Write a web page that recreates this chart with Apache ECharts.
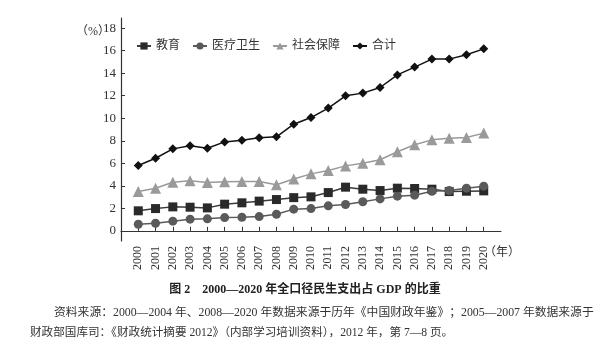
<!DOCTYPE html>
<html><head><meta charset="utf-8">
<script src="https://cdn.jsdelivr.net/npm/echarts@6/dist/echarts.min.js"></script>
<style>html,body{margin:0;padding:0;background:#fff}#c{width:610px;height:346px}</style>
</head><body><div id="c"></div>
<script>
const years = [2000,2001,2002,2003,2004,2005,2006,2007,2008,2009,2010,2011,2012,2013,2014,2015,2016,2017,2018,2019,2020];
const education = [1.78,1.98,2.13,2.10,2.04,2.37,2.49,2.64,2.78,2.95,3.02,3.40,3.88,3.70,3.58,3.79,3.76,3.70,3.49,3.52,3.55];
const health = [0.59,0.68,0.86,1.04,1.07,1.18,1.21,1.27,1.48,1.93,1.98,2.22,2.34,2.58,2.84,3.08,3.17,3.52,3.58,3.79,3.97];
const social = [3.49,3.79,4.32,4.44,4.29,4.35,4.38,4.38,4.09,4.60,5.06,5.36,5.77,6.01,6.31,7.02,7.64,8.08,8.23,8.29,8.68];
const total = [5.80,6.45,7.28,7.55,7.34,7.90,8.05,8.27,8.35,9.47,10.06,10.90,11.99,12.23,12.73,13.85,14.54,15.25,15.25,15.63,16.16];
const yTicks = [0,2,4,6,8,10,12,14,16,18];
const seriesNames = ['教育','医疗卫生','社会保障','合计'];
const yUnit = '（%）';
const xUnit = '（年）';
const captionText = '图 2　2000—2020 年全口径民生支出占 GDP 的比重';
const sourceLine1 = '资料来源：2000—2004 年、2008—2020 年数据来源于历年《中国财政年鉴》；2005—2007 年数据来源于';
const sourceLine2 = '财政部国库司：《财政统计摘要 2012》（内部学习培训资料），2012 年，第 7—8 页。';

const serif = 'Liberation Serif, Noto Sans CJK SC';
function pairs(arr){ return years.map((y,i)=>[y,arr[i]]); }
const chart = echarts.init(document.getElementById('c'), null, {renderer:'canvas'});
chart.setOption({
  animation:false,
  backgroundColor:'#fff',
  textStyle:{fontFamily:serif},
  title:[
    {text:captionText,left:'center',top:279,textStyle:{fontSize:12,fontWeight:'bold',color:'#222',fontFamily:serif}},
    {text:sourceLine1,left:49,top:302,textStyle:{fontSize:11.8,fontWeight:'normal',color:'#333',fontFamily:serif}},
    {text:sourceLine2,left:25,top:322,textStyle:{fontSize:11.6,fontWeight:'normal',color:'#333',fontFamily:serif}},
    {text:yUnit,left:76,top:26,padding:0,textStyle:{fontSize:12,fontWeight:'normal',color:'#333',fontFamily:serif}},
    {text:xUnit,left:484,top:247,padding:0,textStyle:{fontSize:12,fontWeight:'normal',color:'#333',fontFamily:serif}}
  ],
  legend:{
    left:131, top:35, itemWidth:14, itemHeight:9, itemGap:12,
    textStyle:{fontSize:12,color:'#333',fontFamily:serif},
    data:seriesNames
  },
  grid:{left:121,right:109,top:18,bottom:105,containLabel:false},
  xAxis:{
    type:'value', min:1999, max:2021,
    axisLine:{lineStyle:{color:'#333',width:1.2}},
    axisTick:{inside:true,length:4,lineStyle:{color:'#333'},customValues:years},
    axisLabel:{rotate:90,fontSize:12,color:'#333',customValues:years,formatter:v=>String(v),margin:5},
    splitLine:{show:false}
  },
  yAxis:{
    type:'value', min:-0.9, max:18.9,
    axisLine:{show:true,lineStyle:{color:'#333',width:1.2}},
    axisTick:{show:true,inside:true,length:4,lineStyle:{color:'#333'},customValues:yTicks},
    axisLabel:{fontSize:13,color:'#333',customValues:yTicks,margin:5},
    splitLine:{show:false}
  },
  series:[
    {name:seriesNames[0],type:'line',data:pairs(education),symbol:'rect',symbolSize:9,
     itemStyle:{color:'#2a2a2a'},lineStyle:{color:'#3a3a3a',width:1.5}},
    {name:seriesNames[1],type:'line',data:pairs(health),symbol:'circle',symbolSize:9,
     itemStyle:{color:'#5a5a5a'},lineStyle:{color:'#5a5a5a',width:1.5}},
    {name:seriesNames[2],type:'line',data:pairs(social),symbol:'triangle',symbolSize:11,
     itemStyle:{color:'#9a9a9a'},lineStyle:{color:'#9a9a9a',width:1.5}},
    {name:seriesNames[3],type:'line',data:pairs(total),symbol:'diamond',symbolSize:9,
     itemStyle:{color:'#111'},lineStyle:{color:'#111',width:1.5}}
  ]
});
</script></body></html>
